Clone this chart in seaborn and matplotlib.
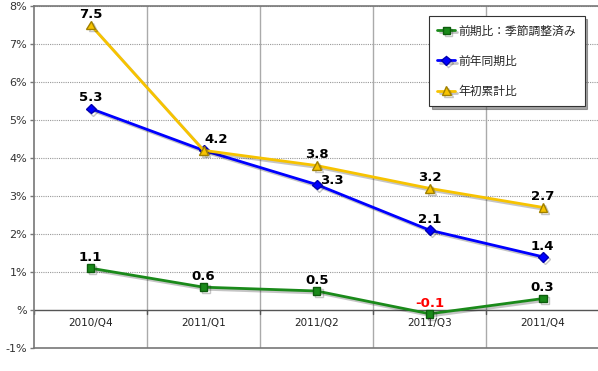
import pandas as pd
import matplotlib.pyplot as plt
import matplotlib.patheffects as pe
import seaborn as sns

# データ
quarters = ['2010/Q4', '2011/Q1', '2011/Q2', '2011/Q3', '2011/Q4']
qoq_sa = [1.1, 0.6, 0.5, -0.1, 0.3]      # 前期比：季節調整済み
yoy = [5.3, 4.2, 3.3, 2.1, 1.4]          # 前年同期比
ytd = [7.5, 4.2, 3.8, 3.2, 2.7]          # 年初累計比
series_names = ['前期比：季節調整済み', '前年同期比', '年初累計比']
y_ticks = [-1, 0, 1, 2, 3, 4, 5, 6, 7, 8]
y_tick_labels = ['-1%', '%', '1%', '2%', '3%', '4%', '5%', '6%', '7%', '8%']

sns.set_theme(style="white")
plt.rcParams['font.family'] = ['Noto Sans CJK JP', 'DejaVu Sans']

rows = []
for name, vals in zip(series_names, [qoq_sa, yoy, ytd]):
    for i, v in enumerate(vals):
        rows.append({'x': i, 'quarter': quarters[i], 'value': v, 'series': name})
df = pd.DataFrame(rows)

colors = {series_names[0]: '#1a8a1a', series_names[1]: '#0000ff', series_names[2]: '#f7c300'}
edges = {series_names[0]: '#0d5c0d', series_names[1]: '#0000b0', series_names[2]: '#a08000'}
markers = {series_names[0]: 's', series_names[1]: 'D', series_names[2]: '^'}
msizes = {series_names[0]: 5.5, series_names[1]: 5, series_names[2]: 6}

fig = plt.figure(figsize=(5.98, 3.71), dpi=100)
ax = fig.add_axes([0.057, 0.062, 0.945, 0.922])

shadow = [pe.SimpleLineShadow(offset=(1.5, -1.5), alpha=0.25), pe.Normal()]
for name in series_names:
    sub = df[df['series'] == name]
    sns.lineplot(data=sub, x='x', y='value', ax=ax, color=colors[name], lw=2.0,
                 marker=markers[name], markersize=msizes[name],
                 markeredgecolor=edges[name], markeredgewidth=1.0, label=name,
                 path_effects=shadow, zorder=3)

# データラベル（重なる所は右にずらす、同じ位置の同じ値は一つだけ）
shift = {(1, 1): (9, 3), (1, 2): (11, -2)}
drawn = set()
for k, name in enumerate(series_names):
    sub = df[df['series'] == name]
    for _, r in sub.iterrows():
        key = (int(r['x']), r['value'])
        if key in drawn:
            continue
        drawn.add(key)
        c = 'red' if r['value'] < 0 else 'black'
        off = shift.get((k, int(r['x'])), (0, 3))
        ax.annotate(f"{r['value']:.1f}", (r['x'], r['value']), xytext=off,
                    textcoords='offset points', ha='center', va='bottom',
                    fontsize=9.5, fontweight='bold', color=c, family='DejaVu Sans',
                    zorder=5)

ax.set_xlim(-0.5, len(quarters) - 0.5)
ax.set_ylim(-1, 8)
ax.set_yticks(y_ticks)
ax.set_yticklabels(y_tick_labels, fontsize=8, color='#333333', family='DejaVu Sans')
ax.set_xticks([])
ax.set_xlabel('')
ax.set_ylabel('')

# グリッド
for y in y_ticks[2:]:
    ax.axhline(y, color='#999999', lw=0.8, ls=(0, (1, 1)), zorder=1)
for i in range(1, len(quarters)):
    ax.axvline(i - 0.5, color='#aaaaaa', lw=1.0, zorder=1)
ax.axhline(0, color='#555555', lw=1.0, zorder=2)
for i in range(len(quarters) + 1):
    ax.plot([i - 0.5, i - 0.5], [0, -0.1], color='#555555', lw=1.0, zorder=2)

for i, q in enumerate(quarters):
    ax.text(i, -0.35, q, ha='center', va='center', fontsize=7.5, color='#222222',
            family='DejaVu Sans')

for s in ['top', 'bottom', 'left']:
    ax.spines[s].set_color('#777777')
    ax.spines[s].set_linewidth(1.2)
ax.spines['right'].set_visible(False)
ax.tick_params(axis='y', length=3, width=1, color='#777777', pad=2, left=True)

leg = ax.legend(loc='upper right', bbox_to_anchor=(0.974, 0.97), fontsize=8.5,
                frameon=True, fancybox=False, shadow=True, labelspacing=1.45,
                handlelength=1.5, handletextpad=0.3, borderpad=0.7, borderaxespad=0)
leg.get_frame().set_edgecolor('#333333')
leg.get_frame().set_linewidth(0.8)

fig.savefig('out.png', dpi=100)
